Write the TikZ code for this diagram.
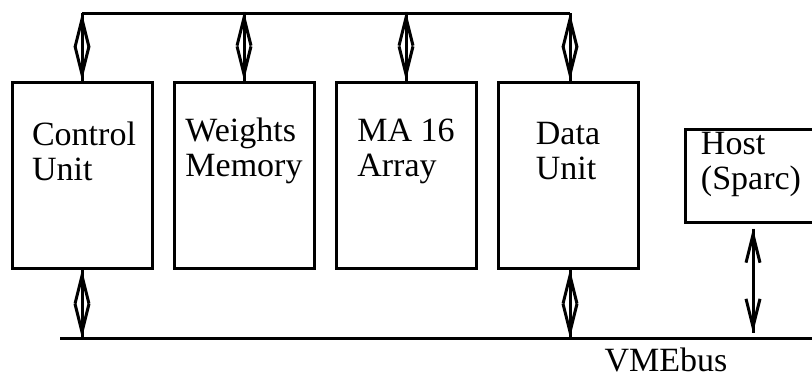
\documentclass[tikz,border=0pt]{standalone}
\usepackage{fontspec}
\setmainfont{Liberation Serif}
\usetikzlibrary{arrows.meta,calc}
\begin{document}
\begin{tikzpicture}[x=1pt,y=-1pt,
  wire/.style={line width=3pt},
  unitbox/.style={draw,line width=3pt,minimum width=140pt,minimum height=186pt,inner sep=0pt},
  hostbox/.style={draw,line width=3pt,minimum width=128pt,minimum height=93pt,inner sep=0pt},
  lbl/.style={font=\fontsize{34}{32}\selectfont,align=left,inner sep=0pt},
  vee/.tip={Straight Barb[length=28pt,width=14pt,line width=3pt]},
  link/.style={line width=3pt,postaction={draw,line width=3pt,vee-vee}}]
\useasboundingbox (0,0) rectangle (812,375);

% processing units
\node[unitbox] (cu) at (82,175) {};
\node[unitbox] (wm) at (244,175) {};
\node[unitbox] (ma) at (406,175) {};
\node[unitbox] (du) at (568,175) {};
\node[hostbox] (host) at (749,175.5) {};

\node[lbl] (cut) at (84,151) {Control\\[3pt]Unit};
\node[lbl] (wmt) at (244,151) {Weights\\[3pt]Memory};
\node[lbl] (mat) at (406,151) {MA 16\\[3pt]Array};
\node[lbl] (dut) at (568,151) {Data\\[3pt]Unit};
\node[lbl] (hostt) at (751,164) {Host\\[3pt](Sparc)};

% internal bus on top, VMEbus at the bottom
\coordinate (tl) at (82,13);
\coordinate (tr) at (570,13);
\coordinate (bl) at (60,338);
\coordinate (br) at (812,338);
\draw[wire] (tl) -- (tr);
\draw[wire] (bl) -- (br);
\node[lbl,anchor=base] (vme) at (666,371) {VMEbus};

% bus connections
\draw[link] (tl) -- (cu.north);
\draw[link] (cu.north -| wm) ++(0,-69) -- (wm.north);
\draw[link] (ma.north) ++(0,-69) -- (ma.north);
\draw[link] (tr) -- (tr |- du.north);
\draw[link] (cu.south) -- (cu.south |- bl);
\draw[link] (tr |- du.south) -- (tr |- bl);
\draw[link] ($(host.south)+(4,5)$) -- ($(host.south |- bl)+(4,-5)$);
\end{tikzpicture}
\end{document}
